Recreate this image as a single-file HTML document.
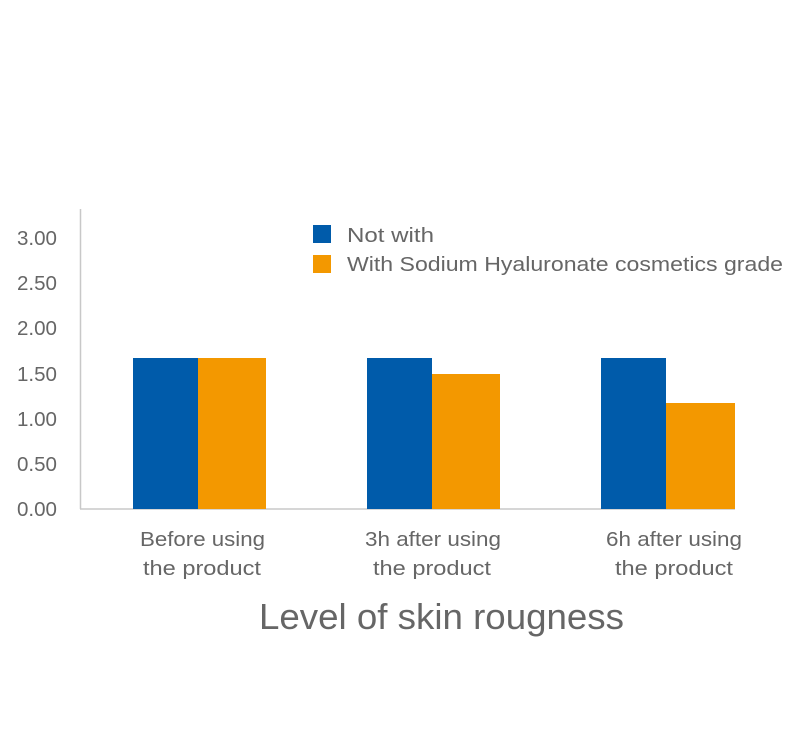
<!DOCTYPE html>
<html><head><meta charset="utf-8"><style>
html,body{margin:0;padding:0;background:#fff;}
svg{display:block;font-family:"Liberation Sans","DejaVu Sans",sans-serif;}
</style></head><body>
<svg width="800" height="746" viewBox="0 0 800 746" xmlns="http://www.w3.org/2000/svg">
<rect width="800" height="746" fill="#fff"/>
<line x1="80.5" y1="209" x2="80.5" y2="509" stroke="#c8c8c8" stroke-width="1.5"/>
<line x1="80" y1="509" x2="735" y2="509" stroke="#c8c8c8" stroke-width="1.5"/>
<g fill="#666" font-size="20">
<text x="17" y="245" textLength="40" lengthAdjust="spacingAndGlyphs">3.00</text>
<text x="17" y="290" textLength="40" lengthAdjust="spacingAndGlyphs">2.50</text>
<text x="17" y="335" textLength="40" lengthAdjust="spacingAndGlyphs">2.00</text>
<text x="17" y="381" textLength="40" lengthAdjust="spacingAndGlyphs">1.50</text>
<text x="17" y="426" textLength="40" lengthAdjust="spacingAndGlyphs">1.00</text>
<text x="17" y="471" textLength="40" lengthAdjust="spacingAndGlyphs">0.50</text>
<text x="17" y="516" textLength="40" lengthAdjust="spacingAndGlyphs">0.00</text>
</g>
<g fill="#005baa">
<rect x="133" y="358" width="65" height="151"/>
<rect x="367" y="358" width="65" height="151"/>
<rect x="601" y="358" width="65" height="151"/>
</g>
<g fill="#f39800">
<rect x="198" y="358" width="68" height="151"/>
<rect x="432" y="374" width="68" height="135"/>
<rect x="666" y="403" width="69" height="106"/>
</g>
<rect x="313" y="225" width="18" height="18" fill="#005baa"/>
<rect x="313" y="255" width="18" height="18" fill="#f39800"/>
<g fill="#666" font-size="20">
<text x="347" y="242" textLength="87" lengthAdjust="spacingAndGlyphs">Not with</text>
<text x="347" y="271" textLength="436" lengthAdjust="spacingAndGlyphs">With Sodium Hyaluronate cosmetics grade</text>
</g>
<g fill="#666" font-size="20">
<text x="140" y="546" textLength="125" lengthAdjust="spacingAndGlyphs">Before using</text>
<text x="143" y="575" textLength="118" lengthAdjust="spacingAndGlyphs">the product</text>
<text x="365" y="546" textLength="136" lengthAdjust="spacingAndGlyphs">3h after using</text>
<text x="373" y="575" textLength="118" lengthAdjust="spacingAndGlyphs">the product</text>
<text x="606" y="546" textLength="136" lengthAdjust="spacingAndGlyphs">6h after using</text>
<text x="615" y="575" textLength="118" lengthAdjust="spacingAndGlyphs">the product</text>
</g>
<text x="259" y="629" fill="#666" font-size="36" textLength="365" lengthAdjust="spacingAndGlyphs">Level of skin rougness</text>
</svg>
</body></html>
